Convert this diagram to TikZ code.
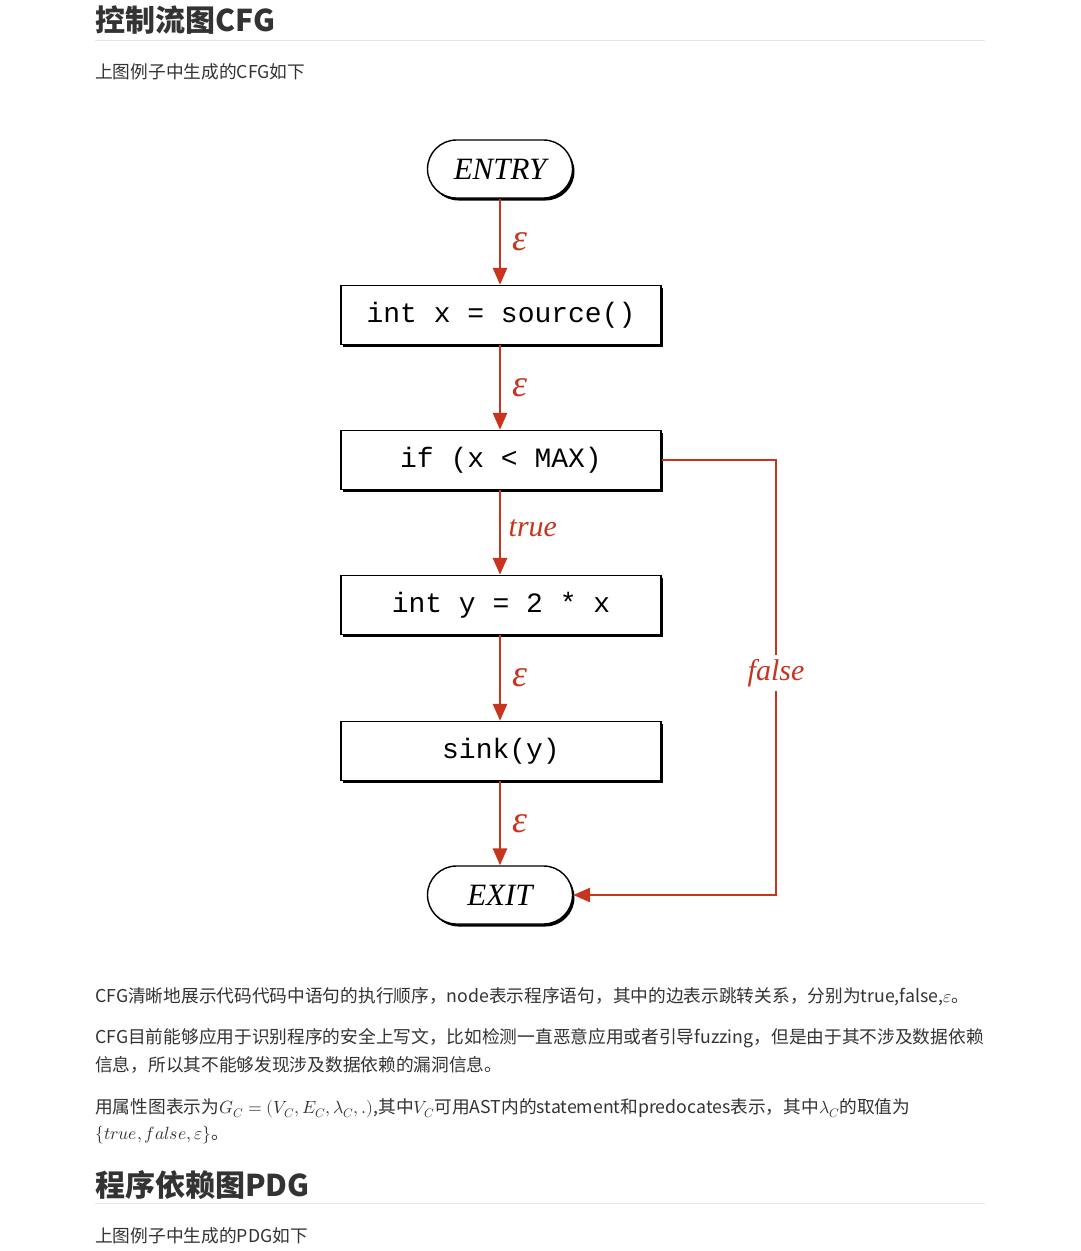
\documentclass[tikz,border=0pt]{standalone}
\usepackage{fontspec}
\usepackage{unicode-math}
\setmainfont{Noto Sans CJK SC}
\setmathfont{Latin Modern Math}
\newfontfamily\codefont{Liberation Mono}
\newfontfamily\serifit{Liberation Serif}
\usetikzlibrary{shadows,arrows.meta}
\definecolor{cfgred}{HTML}{C8341E}
\definecolor{txt}{HTML}{333333}
\begin{document}
\begin{tikzpicture}[x=1pt,y=-1pt,
  stmt/.style={draw,line width=1.4pt,minimum width=320pt,minimum height=59pt,fill=white,
    drop shadow={shadow xshift=2pt,shadow yshift=-2.5pt,fill=black,opacity=1},
    font=\codefont\fontsize{28}{28}\selectfont},
  term/.style={draw,line width=1.4pt,rounded corners=29pt,minimum width=145pt,minimum height=58pt,fill=white,
    drop shadow={shadow xshift=2pt,shadow yshift=-2.5pt,fill=black,opacity=1},
    font=\serifit\itshape\fontsize{31}{31}\selectfont},
  flow/.style={draw=cfgred,line width=2.8pt,-{Triangle[length=17pt,width=14pt]}},
  lab/.style={text=cfgred,font=\serifit\itshape\fontsize{30}{30}\selectfont},
  eps/.style={lab,font=\serifit\itshape\fontsize{38}{38}\selectfont,right=8pt},
  body/.style={anchor=west,text=txt,font=\fontsize{17.7}{27}\selectfont,inner sep=0pt},
  head/.style={anchor=west,text=txt,font=\bfseries\fontsize{30}{30}\selectfont,inner sep=0pt}]
\useasboundingbox[fill=white] (0,0) rectangle (1080,1251);
\node[head] (h1) at (95,20) {控制流图CFG};
\draw[black!10,line width=1pt] (95,40) -- (985,40);
\node[body] (p0) at (95,72) {上图例子中生成的CFG如下};

\node[term] (entry) at (500,169) {ENTRY};
\node[stmt] (s1) at (501,315) {int x = source()};
\node[stmt] (s2) at (501,460) {if (x < MAX)};
\node[stmt] (s3) at (501,605) {int y = 2 * x};
\node[stmt] (s4) at (501,751) {sink(y)};
\node[term] (exit) at (500,895) {EXIT};

\draw[flow] (entry) -- node[eps]{ε} (s1.north -| entry);
\draw[flow] (s1.south -| entry) -- node[eps]{ε} (s2.north -| entry);
\draw[flow] (s2.south -| entry) -- node[lab,right=4pt,pos=0.45]{true} (s3.north -| entry);
\draw[flow] (s3.south -| entry) -- node[eps]{ε} (s4.north -| entry);
\draw[flow] (s4.south -| entry) -- node[eps]{ε} (exit);
\coordinate (fr) at (776,460);
\coordinate (fb) at (776,895);
\draw[flow] (s2.east) -- (fr) -- node[lab,fill=white,inner sep=4pt,pos=0.49]{false} (fb) -- (exit.east);

\node[body] (p1) at (95,997) {CFG清晰地展示代码代码中语句的执行顺序，node表示程序语句，其中的边表示跳转关系，分别为true,false,$\varepsilon$。};
\node[body] (p2) at (95,1038) {CFG目前能够应用于识别程序的安全上写文，比如检测一直恶意应用或者引导fuzzing，但是由于其不涉及数据依赖};
\node[body] (p2b) at (95,1065) {信息，所以其不能够发现涉及数据依赖的漏洞信息。};
\node[body] (p3) at (95,1108) {用属性图表示为$G_C=(V_C,E_C,\lambda_C,.)$,其中$V_C$可用AST内的statement和predocates表示，其中$\lambda_C$的取值为};
\node[body] (p3b) at (95,1135) {$\{true,false,\varepsilon\}$。};
\node[head] (h2) at (95,1185) {程序依赖图PDG};
\draw[black!10,line width=1pt] (95,1203) -- (985,1203);
\node[body] (p4) at (95,1236) {上图例子中生成的PDG如下};
\end{tikzpicture}
\end{document}
